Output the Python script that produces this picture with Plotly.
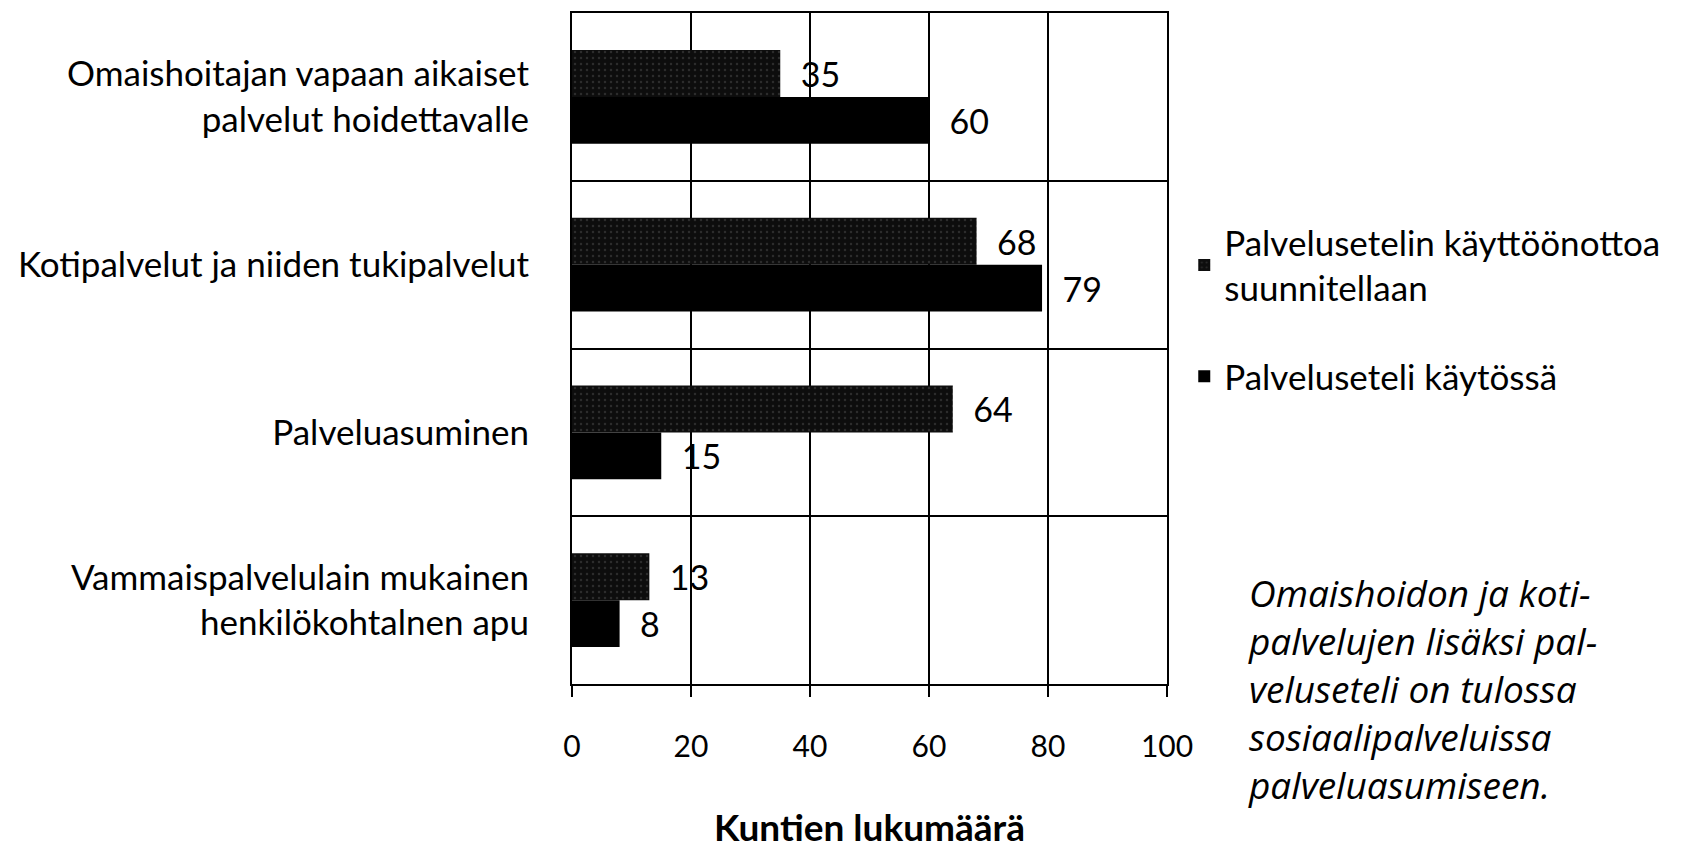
import plotly.graph_objects as go

categories = [
    "Omaishoitajan vapaan aikaiset<br>palvelut hoidettavalle",
    "Kotipalvelut ja niiden tukipalvelut",
    "Palveluasuminen",
    "Vammaispalvelulain mukainen<br>henkilökohtalnen apu",
]
planned_name = "Palvelusetelin käyttöönottoa<br>suunnitellaan"
inuse_name = "Palveluseteli käytössä"
planned = [35, 68, 64, 13]
in_use = [60, 79, 15, 8]
x_ticks = [0, 20, 40, 60, 80, 100]
x_title = "Kuntien lukumäärä"
note_lines = [
    "Omaishoidon ja koti-",
    "palvelujen lisäksi pal-",
    "veluseteli on tulossa",
    "sosiaalipalveluissa",
    "palveluasumiseen.",
]

FONT = "Lato, 'Open Sans', sans-serif"

# page has an 8px body margin; figure sized to fit the window
W, H = 1686, 841
L, T = 564, 5
PW, PH = 595, 671
R = W - L - PW
B = H - T - PH

fig = go.Figure()
fig.add_trace(go.Bar(
    y=categories, x=planned, name=planned_name, orientation="h",
    legendgroup="a",
    marker=dict(color="#0d0d0d", line=dict(width=0),
                pattern=dict(shape=".", fgcolor="#4a4a4a", size=6, solidity=0.14)),
    text=planned, texttemplate="  %{x}", textposition="outside",
    textfont=dict(family=FONT, size=34, color="black"), cliponaxis=False,
))
fig.add_trace(go.Bar(
    y=categories, x=in_use, name=inuse_name, orientation="h",
    legendgroup="b",
    marker=dict(color="#000000", line=dict(width=0)),
    text=in_use, texttemplate="  %{x}", textposition="outside",
    textfont=dict(family=FONT, size=34, color="black"), cliponaxis=False,
))

fig.update_layout(
    width=W, height=H,
    margin=dict(l=L, r=R, t=T, b=B, autoexpand=False),
    paper_bgcolor="white", plot_bgcolor="white",
    font=dict(family=FONT, size=34, color="black"),
    barmode="group", bargap=0.44, bargroupgap=0,
    showlegend=True,
    legend=dict(x=1.029, xanchor="left", y=0.702, yanchor="top",
                font=dict(family=FONT, size=35, color="black"),
                traceorder="grouped", tracegroupgap=40,
                bgcolor="rgba(0,0,0,0)"),
    uniformtext=dict(minsize=34, mode="show"),
)
fig.update_xaxes(
    range=[0, 100], tickvals=x_ticks, ticks="outside", ticklen=11,
    tickcolor="black", tickwidth=2,
    showgrid=True, gridcolor="black", gridwidth=2,
    showline=True, linecolor="black", linewidth=2, mirror=True,
    zeroline=False, ticklabelstandoff=24, automargin=True,
    tickfont=dict(family=FONT, size=30, color="black"),
    title=dict(text="<b>" + x_title + "</b>", standoff=55,
               font=dict(family=FONT, size=37, color="black")),
)
fig.update_yaxes(
    autorange="reversed", tickson="boundaries", ticks="",
    showgrid=True, gridcolor="black", gridwidth=2,
    showline=True, linecolor="black", linewidth=2, mirror=True,
    ticklabelstandoff=34, automargin=False,
    tickfont=dict(family=FONT, size=35, color="black"),
)

# italic note block on the right (page pixel positions minus body margin)
note_x_page = 1246
note_top_page = 565
fig.add_annotation(
    text="<i>" + "<br>".join(note_lines) + "</i>", xref="paper", yref="paper",
    x=(note_x_page - 8 - L) / PW, xanchor="left",
    y=1 - (note_top_page - 8 - T) / PH, yanchor="top",
    showarrow=False, align="left",
    font=dict(family="'Open Sans', sans-serif", size=37, color="black"),
)

fig.write_html("out.html")
